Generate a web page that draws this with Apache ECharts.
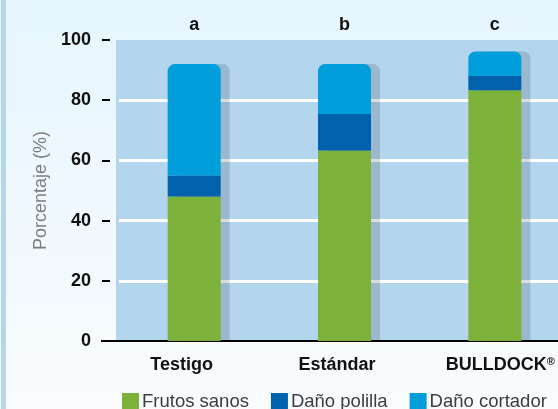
<!DOCTYPE html>
<html lang="es" style="height: 100%">

<head>
  <meta charset="utf-8">
</head>

<body style="height: 100%; margin: 0; overflow: hidden">
  <!-- el área del gráfico continúa más allá del borde derecho -->
  <div id="container" style="width: 570px; height: 409px"></div>

  <script type="text/javascript" src="https://fastly.jsdelivr.net/npm/echarts@6.0.0/dist/echarts.min.js"></script>

  <script type="text/javascript">
    // datos
    const categories = ['Testigo', 'Estándar', 'BULLDOCK®'];
    const groupLetters = ['a', 'b', 'c'];
    const frutosSanos = [48, 63.3, 83.3];
    const danoPolilla = [7, 12.1, 4.7];
    const danoCortador = [37, 16.6, 8.2];
    const yTicks = [0, 20, 40, 60, 80, 100];

    // desplazamiento horizontal (px) de cada etiqueta, como en el original
    const labelNudge = [-12.5, -7.5, 5.5];

    var dom = document.getElementById('container');
    var myChart = echarts.init(dom, null, { renderer: 'canvas' });

    const font = '"Liberation Sans", Arial, sans-serif';
    const gridLeft = 119;
    const plotBg = '#b4d5ee';

    const barShadow = {
      shadowColor: 'rgba(10,20,30,0.15)',
      shadowOffsetX: 9,
      shadowOffsetY: 0,
      shadowBlur: 0
    };

    const categoryData = categories.map((name, i) => {
      const n = labelNudge[i];
      return {
        value: name,
        textStyle: { padding: n < 0 ? [0, -2 * n, 0, 0] : [0, 0, 0, 2 * n] }
      };
    });

    var option = {
      backgroundColor: new echarts.graphic.LinearGradient(0, 0, 0, 1, [
        { offset: 0, color: '#e6f5fe' },
        { offset: 1, color: '#f9fcfe' }
      ]),
      animation: false,
      grid: {
        left: gridLeft,
        right: 0,
        top: 40,
        bottom: 68,
        show: true,
        backgroundColor: plotBg,
        borderWidth: 0
      },
      legend: {
        data: ['Frutos sanos', 'Daño polilla', 'Daño cortador'],
        icon: 'rect',
        left: 122,
        top: 392,
        padding: 0,
        itemWidth: 17,
        itemHeight: 17,
        itemGap: 22,
        textStyle: { fontFamily: font, fontSize: 18.5, color: '#3d3d3d', padding: [0, 0, 0, -2] }
      },
      xAxis: [
        {
          type: 'category',
          data: categoryData,
          axisLine: { lineStyle: { color: '#000', width: 2 } },
          axisTick: { show: false },
          axisLabel: {
            interval: 0,
            margin: 15,
            fontFamily: font,
            fontSize: 18,
            fontWeight: 'bold',
            color: '#111',
            formatter: v => v.replace('®', '{sup|®}'),
            rich: {
              sup: { fontFamily: font, fontSize: 11, fontWeight: 'bold', color: '#111', verticalAlign: 'top' }
            }
          }
        },
        {
          type: 'category',
          data: groupLetters,
          position: 'top',
          axisLine: { show: false },
          axisTick: { show: false },
          axisLabel: { interval: 0, margin: 6, fontFamily: font, fontSize: 18, fontWeight: 'bold', color: '#111' }
        }
      ],
      yAxis: {
        type: 'value',
        min: yTicks[0],
        max: yTicks[yTicks.length - 1],
        interval: yTicks[1] - yTicks[0],
        offset: 9,
        name: 'Porcentaje (%)',
        nameLocation: 'middle',
        nameGap: 57,
        nameTextStyle: { fontFamily: font, fontSize: 18, color: '#7d7d7d' },
        axisLine: { show: false },
        axisTick: { show: true, length: 8, lineStyle: { color: '#000', width: 2 } },
        axisLabel: { margin: 19, fontFamily: font, fontSize: 18, fontWeight: 'bold', color: '#111' },
        splitLine: {
          lineStyle: {
            color: ['#ffffff', '#ffffff', '#ffffff', '#ffffff', '#ffffff', 'rgba(0,0,0,0)'],
            width: 3
          }
        }
      },
      series: [
        {
          name: 'Frutos sanos',
          type: 'bar',
          stack: 'total',
          barWidth: 53,
          silent: true,
          data: frutosSanos,
          itemStyle: Object.assign({ color: '#7cb13a' }, barShadow)
        },
        {
          name: 'Daño polilla',
          type: 'bar',
          stack: 'total',
          barWidth: 53,
          silent: true,
          data: danoPolilla,
          itemStyle: Object.assign({ color: '#0061ac' }, barShadow)
        },
        {
          name: 'Daño cortador',
          type: 'bar',
          stack: 'total',
          barWidth: 53,
          silent: true,
          data: danoCortador,
          itemStyle: Object.assign({ color: '#009fdb', borderRadius: [7, 7, 0, 0] }, barShadow)
        }
      ]
    };

    myChart.setOption(option);

    // borde izquierdo, franja de fondo a la izquierda y prolongación del eje x
    const zeroY = myChart.convertToPixel({ yAxisIndex: 0 }, 0);
    const topY = myChart.convertToPixel({ yAxisIndex: 0 }, yTicks[yTicks.length - 1]);
    myChart.setOption({
      graphic: [
        { type: 'rect', z: 100, shape: { x: 1, y: 0, width: 5, height: 409 }, style: { fill: '#b5d6f1' } },
        { type: 'rect', z: 0, shape: { x: 116, y: topY, width: gridLeft - 116, height: zeroY - topY }, style: { fill: plotBg } },
        { type: 'line', z: 100, shape: { x1: 101, y1: zeroY, x2: gridLeft + 1, y2: zeroY }, style: { stroke: '#000', lineWidth: 2 } }
      ]
    });

    window.addEventListener('resize', myChart.resize);
  </script>
</body>

</html>
